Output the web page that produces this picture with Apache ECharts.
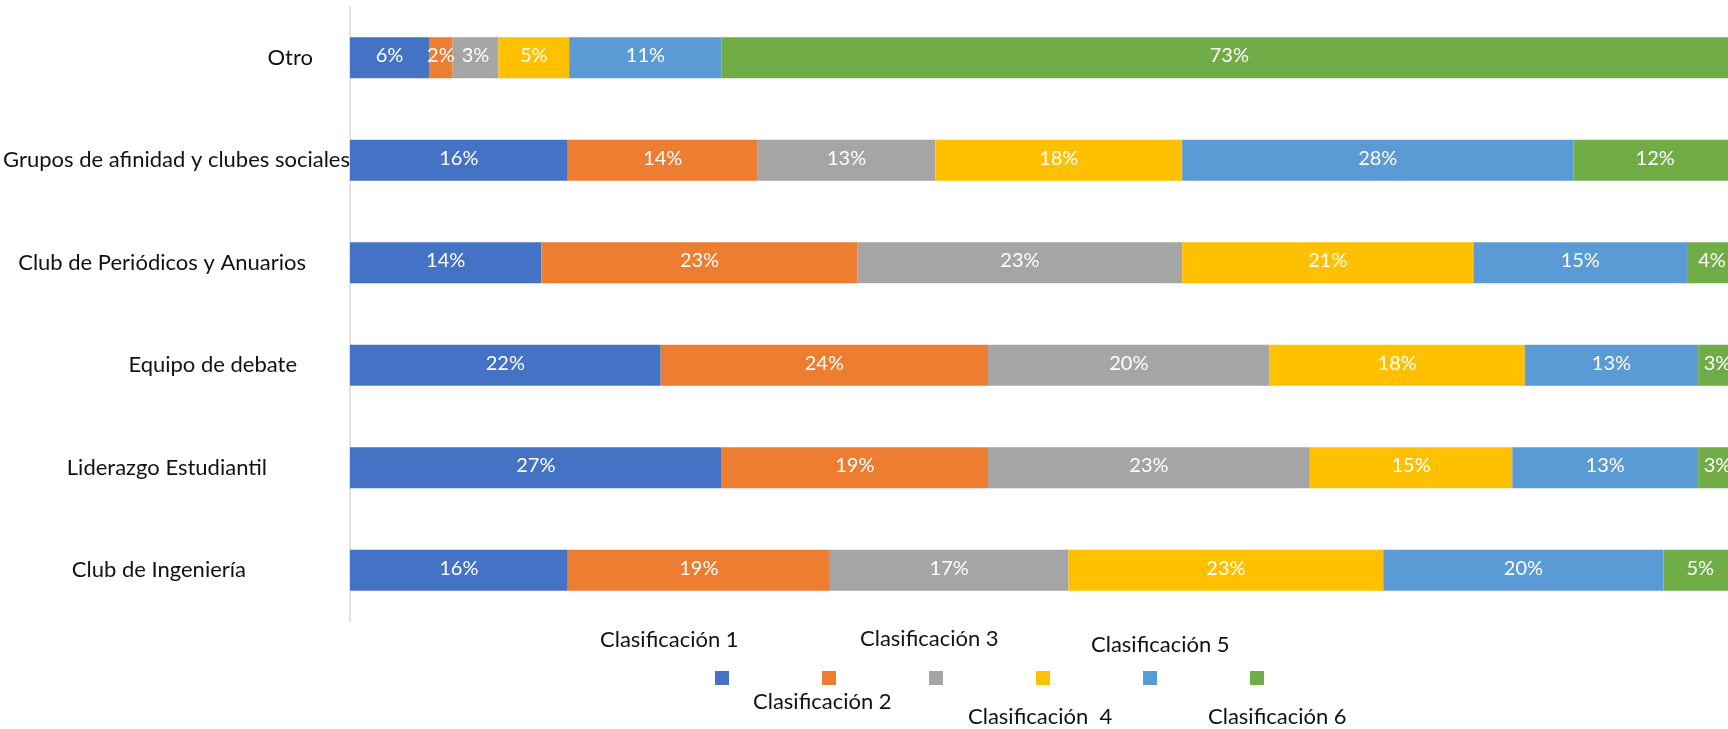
<!DOCTYPE html>
<html>
<head>
<meta charset="utf-8">
<script src="https://cdn.jsdelivr.net/npm/echarts@6/dist/echarts.min.js"></script>
<style>
  html, body { margin: 0; padding: 0; background: #fff; }
  #chart { width: 1728px; height: 729px; }
</style>
</head>
<body>
<div id="chart"></div>
<script>
// categories bottom -> top (Excel order)
var categories = [
  "Club de Ingeniería",
  "Liderazgo Estudiantil",
  "Equipo de debate",
  "Club de Periódicos y Anuarios",
  "Grupos de afinidad y clubes sociales",
  "Otro"
];
var seriesNames = [
  "Clasificación 1",
  "Clasificación 2",
  "Clasificación 3",
  "Clasificación  4",
  "Clasificación 5",
  "Clasificación 6"
];
// percentages, same order as categories
var clas1 = [15.7, 26.8, 22.4, 13.8, 15.7, 5.7];
var clas2 = [18.9, 19.2, 23.6, 22.8, 13.7, 1.7];
var clas3 = [17.2, 23.2, 20.3, 23.4, 12.8, 3.3];
var clas4 = [22.7, 14.6, 18.4, 21.0, 17.8, 5.1];
var clas5 = [20.2, 13.4, 12.5, 15.4, 28.2, 11.0];
var clas6 = [5.3, 2.8, 2.8, 3.6, 11.8, 73.2];

var colors = ["#4472C4", "#ED7D31", "#A5A5A5", "#FFC000", "#5B9BD5", "#70AD47"];
var font = "Lato";

// right padding of each axis label (keeps the uneven Excel placement)
var labelPad = [104, 83, 53, 44, 0, 37];
// legend label anchors
var legendText = [
  [600, 640], [753, 702], [860, 639], [968, 717], [1091, 645], [1208, 717]
];

var mycharts = echarts.init(document.getElementById("chart"));

var allData = [clas1, clas2, clas3, clas4, clas5, clas6];
var series = allData.map(function (d, i) {
  return {
    name: seriesNames[i],
    type: "bar",
    stack: "total",
    barCategoryGap: "60%",
    itemStyle: { color: colors[i] },
    label: {
      show: true,
      position: "inside",
      offset: [0, -2],
      color: "#fff",
      fontFamily: font,
      fontSize: 20,
      formatter: function (p) {
        return Math.round(p.value) + "%";
      }
    },
    data: d
  };
});

mycharts.setOption({
  animation: false,
  textStyle: { fontFamily: font },
  grid: {
    left: 350,
    right: -9,
    top: 6.5,
    height: 615,
    containLabel: false,
    outerBoundsMode: "none"
  },
  legend: {
    left: 710,
    top: 666,
    icon: "rect",
    itemWidth: 14,
    itemHeight: 14,
    itemGap: 93,
    selectedMode: false,
    formatter: function () {
      return "";
    },
    data: seriesNames
  },
  graphic: seriesNames.map(function (n, i) {
    return {
      type: "text",
      x: legendText[i][0],
      y: legendText[i][1],
      style: {
        text: n,
        fill: "#111",
        fontFamily: font,
        fontSize: 22,
        verticalAlign: "middle"
      }
    };
  }),
  xAxis: {
    type: "value",
    min: 0,
    max: 100,
    show: false
  },
  yAxis: {
    type: "category",
    data: categories.map(function (c, i) {
      return {
        value: c,
        textStyle: { padding: [0, labelPad[i], 20, 0] }
      };
    }),
    axisLine: { lineStyle: { color: "#d9d9d9", width: 1.5 } },
    axisTick: { show: false },
    axisLabel: {
      margin: 0,
      color: "#111",
      fontFamily: font,
      fontSize: 22
    }
  },
  series: series
});
</script>
</body>
</html>
